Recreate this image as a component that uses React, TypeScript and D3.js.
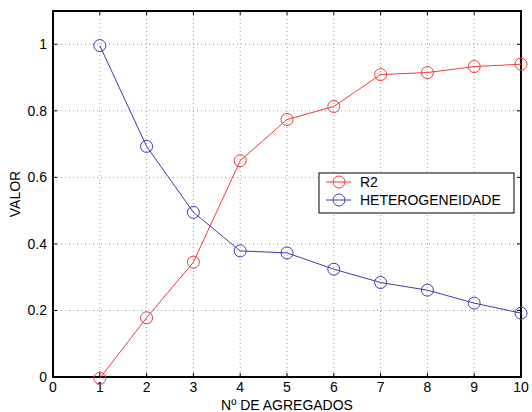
import React from "react";
import * as d3 from "d3";

const xs = [1, 2, 3, 4, 5, 6, 7, 8, 9, 10];
const r2 = [-0.004, 0.178, 0.345, 0.65, 0.774, 0.813, 0.909, 0.915, 0.933, 0.94];
const het = [0.996, 0.693, 0.495, 0.379, 0.373, 0.324, 0.284, 0.261, 0.222, 0.192];
const xTicks = [0, 1, 2, 3, 4, 5, 6, 7, 8, 9, 10];
const yTicks = [0, 0.2, 0.4, 0.6, 0.8, 1];
const seriesNames = ["R2", "HETEROGENEIDADE"];
const colors = ["#f03a3a", "#3c3ca8"];

export default function App() {
  const W = 532, H = 412;
  const left = 53, right = 521, top = 11, bottom = 377;
  const x = d3.scaleLinear().domain([0, 10]).range([left, right]);
  const y = d3.scaleLinear().domain([0, 1.1]).range([bottom, top]);
  const line = d3.line<number>().x((_, i) => x(xs[i])).y((d) => y(d));
  const series = [r2, het];
  const font = "Liberation Sans, Arial, sans-serif";
  return (
    <svg width={W} height={H} style={{ position: "absolute", left: 0, top: 0, background: "#fff" }} fontFamily={font}>
      <rect x={0} y={0} width={W} height={H} fill="#fff" />
      {xTicks.map((t) => (
        <line key={"gx" + t} x1={x(t)} x2={x(t)} y1={top} y2={bottom} stroke="#999" strokeDasharray="1,3" />
      ))}
      {yTicks.map((t) => (
        <line key={"gy" + t} x1={left} x2={right} y1={y(t)} y2={y(t)} stroke="#999" strokeDasharray="1,3" />
      ))}
      {xTicks.map((t) => (
        <g key={"tx" + t}>
          <line x1={x(t)} x2={x(t)} y1={bottom} y2={bottom - 4} stroke="#000" />
          <line x1={x(t)} x2={x(t)} y1={top} y2={top + 4} stroke="#000" />
          <text x={x(t)} y={392} textAnchor="middle" fontSize={14}>{t}</text>
        </g>
      ))}
      {yTicks.map((t) => (
        <g key={"ty" + t}>
          <line x1={left} x2={left + 4} y1={y(t)} y2={y(t)} stroke="#000" />
          <line x1={right} x2={right - 4} y1={y(t)} y2={y(t)} stroke="#000" />
          <text x={left - 6} y={y(t) + 5} textAnchor="end" fontSize={14}>{t}</text>
        </g>
      ))}
      <rect x={left} y={top} width={right - left} height={bottom - top} fill="none" stroke="#000" strokeWidth={2} />
      {series.map((s, k) => (
        <g key={"s" + k}>
          <path d={line(s) || ""} fill="none" stroke={colors[k]} strokeWidth={1} />
          {s.map((v, i) => (
            <circle key={i} cx={x(xs[i])} cy={y(v)} r={6} fill="none" stroke={colors[k]} strokeWidth={1} />
          ))}
        </g>
      ))}
      <g>
        <rect x={319} y={173} width={195} height={40} fill="#fff" stroke="#000" strokeWidth={1} />
        {seriesNames.map((n, k) => (
          <g key={n}>
            <line x1={326} x2={351} y1={182 + k * 18} y2={182 + k * 18} stroke={colors[k]} />
            <circle cx={339} cy={182 + k * 18} r={6} fill="none" stroke={colors[k]} />
            <text x={360} y={182 + k * 18 + 5} fontSize={14}>{n}</text>
          </g>
        ))}
      </g>
      <text x={287} y={410} textAnchor="middle" fontSize={14}>Nº DE AGREGADOS</text>
      <text transform={`translate(20, ${(top + bottom) / 2}) rotate(-90)`} textAnchor="middle" fontSize={14}>VALOR</text>
    </svg>
  );
}
